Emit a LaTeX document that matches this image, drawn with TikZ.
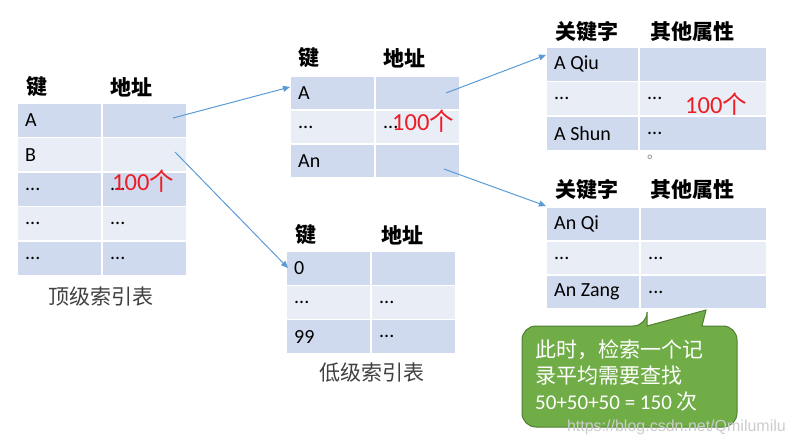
\documentclass[tikz,border=0pt]{standalone}
\usepackage{fontspec}
\setmainfont{Carlito}
\newfontfamily\cjk{Noto Sans CJK SC}
\newfontfamily\wmfont{Liberation Sans}
\usetikzlibrary{arrows.meta}
\definecolor{rowD}{HTML}{D0DAEE}
\definecolor{rowL}{HTML}{E9EDF6}
\definecolor{arrblue}{HTML}{5B9BD5}
\definecolor{calloutfill}{HTML}{70AD47}
\definecolor{calloutdraw}{HTML}{507E32}
\definecolor{captiongray}{HTML}{404040}
\definecolor{redtxt}{HTML}{EE1C25}
\tikzset{
  cellbox/.style={draw=white, line width=1.5pt, anchor=north west, inner sep=0pt, outer sep=0pt},
  celltext/.style={anchor=west, inner sep=0pt, font=\fontsize{20}{21}\selectfont},
  hdr/.style={anchor=west, inner sep=0pt, font=\cjk\bfseries\fontsize{21}{22}\selectfont},
  caption/.style={anchor=center, inner sep=0pt, text=captiongray, font=\cjk\fontsize{21}{22}\selectfont},
  redlbl/.style={anchor=west, inner sep=0pt, text=redtxt, font=\fontsize{24.5}{25}\selectfont},
  arr/.style={draw=arrblue, line width=1pt, -{Triangle[length=7pt,width=6pt]}},
}
\newcommand\mkcell[7]{%
  \node[cellbox, fill=#6, minimum width=#4pt, minimum height=#5pt] (#1) at (#2,#3) {};
  \node[celltext] (#1-t) at ([xshift=8pt]#1.west) {#7};}
\begin{document}
\begin{tikzpicture}[x=1pt,y=-1pt]
\useasboundingbox (0,0) rectangle (789,446);
% ---------- table 1 (top level index)
\node[hdr] (h1a) at (26,87) {键};
\node[hdr] (h1b) at (110,87) {地址};
\mkcell{t1a1}{17}{103}{85}{34.5}{rowD}{A}
\mkcell{t1a2}{102}{103}{85}{34.5}{rowD}{}
\mkcell{t1b1}{17}{137.5}{85}{34.5}{rowL}{B}
\mkcell{t1b2}{102}{137.5}{85}{34.5}{rowL}{}
\mkcell{t1c1}{17}{172}{85}{34.5}{rowD}{...}
\mkcell{t1c2}{102}{172}{85}{34.5}{rowD}{...}
\mkcell{t1d1}{17}{206.5}{85}{34.5}{rowL}{...}
\mkcell{t1d2}{102}{206.5}{85}{34.5}{rowL}{...}
\mkcell{t1e1}{17}{241}{85}{34.5}{rowD}{...}
\mkcell{t1e2}{102}{241}{85}{34.5}{rowD}{...}
\node[caption] (cap1) at (101,297) {顶级索引表};
\node[redlbl] (r1) at (112,181) {100{\cjk 个}};
% ---------- table 2
\node[hdr] (h2a) at (298,58) {键};
\node[hdr] (h2b) at (383,58) {地址};
\mkcell{t2a1}{290}{76}{85}{34}{rowD}{A}
\mkcell{t2a2}{375}{76}{85}{34}{rowD}{}
\mkcell{t2b1}{290}{110}{85}{34}{rowL}{...}
\mkcell{t2b2}{375}{110}{85}{34}{rowL}{...}
\mkcell{t2c1}{290}{144}{85}{34}{rowD}{An}
\mkcell{t2c2}{375}{144}{85}{34}{rowD}{}
\node[redlbl] (r2) at (392,121) {100{\cjk 个}};
% ---------- table 3 (low level index)
\node[hdr] (h3a) at (295,235) {键};
\node[hdr] (h3b) at (381,235) {地址};
\mkcell{t3a1}{286}{251}{85}{34.3}{rowD}{0}
\mkcell{t3a2}{371}{251}{85}{34.3}{rowD}{}
\mkcell{t3b1}{286}{285.3}{85}{34.3}{rowL}{...}
\mkcell{t3b2}{371}{285.3}{85}{34.3}{rowL}{...}
\mkcell{t3c1}{286}{319.6}{85}{34.3}{rowD}{99}
\mkcell{t3c2}{371}{319.6}{85}{34.3}{rowD}{...}
\node[caption] (cap3) at (372,373) {低级索引表};
% ---------- table 4 (records)
\node[hdr] (h4a) at (555,32) {关键字};
\node[hdr] (h4b) at (650,32) {其他属性};
\mkcell{t4a1}{546}{47}{93}{34.5}{rowD}{A Qiu}
\mkcell{t4a2}{639}{47}{128}{34.5}{rowD}{}
\mkcell{t4b1}{546}{81.5}{93}{34.5}{rowL}{...}
\mkcell{t4b2}{639}{81.5}{128}{34.5}{rowL}{...}
\mkcell{t4c1}{546}{116}{93}{34.5}{rowD}{A Shun}
\mkcell{t4c2}{639}{116}{128}{34.5}{rowD}{...}
\node[redlbl] (r4) at (685,104) {100{\cjk 个}};
\node[inner sep=0pt, text=gray, font=\cjk\fontsize{14}{14}\selectfont] (dot) at (654,157) {。};
% ---------- table 5 (records)
\node[hdr] (h5a) at (555,190) {关键字};
\node[hdr] (h5b) at (650,190) {其他属性};
\mkcell{t5a1}{546}{207}{94}{34}{rowD}{An Qi}
\mkcell{t5a2}{640}{207}{127}{34}{rowD}{}
\mkcell{t5b1}{546}{241}{94}{34}{rowL}{...}
\mkcell{t5b2}{640}{241}{127}{34}{rowL}{...}
\mkcell{t5c1}{546}{275}{94}{34}{rowD}{An Zang}
\mkcell{t5c2}{640}{275}{127}{34}{rowD}{...}
% ---------- arrows
\coordinate (s1) at (173,118);
\coordinate (e1) at (290,87);
\coordinate (s2) at (175,152);
\coordinate (e2) at (288,268);
\coordinate (s3) at (446,93);
\coordinate (e3) at (546,55);
\coordinate (s4) at (444,169);
\coordinate (e4) at (546,206);
\draw[arr] (s1) -- (e1);
\draw[arr] (s2) -- (e2);
\draw[arr] (s3) -- (e3);
\draw[arr] (s4) -- (e4);
% ---------- callout
\draw[fill=calloutfill, draw=calloutdraw, line width=1pt]
  (647,326) -- (706,310) -- (702,326)
  [rounded corners=14pt] -- (737,326) -- (737,427) -- (522,427) -- (522,326) -- (647,326) [sharp corners] -- cycle;
\node[anchor=north west, align=left, inner sep=0pt, text=white, font=\fontsize{21}{26}\selectfont] (note) at (535,340)
  {{\cjk 此时，检索一个记}\\{\cjk 录平均需要查找}\\50+50+50 = 150 {\cjk 次}};
\node[anchor=east, inner sep=0pt, text=black!20, font=\wmfont\fontsize{16}{16}\selectfont] (wm) at (786,427) {https://blog.csdn.net/Qmilumilu};
\end{tikzpicture}
\end{document}
